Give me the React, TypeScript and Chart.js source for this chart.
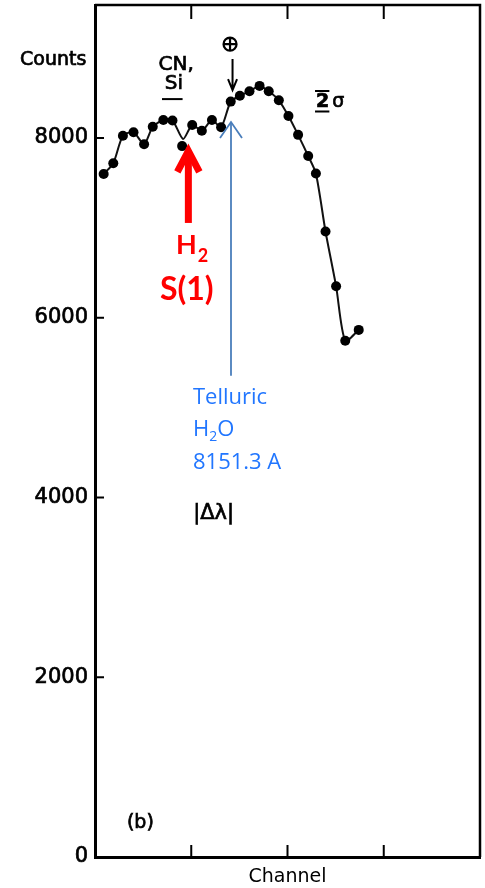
import React, { useEffect, useRef } from "react";
import { Chart, registerables } from "chart.js";

Chart.register(...registerables);

// Measured spectrum points (channel, counts)
const channels = [0.9, 1.9, 2.9, 4.0, 5.1, 6.0, 7.1, 8.05, 9.05, 10.1, 11.1, 12.15, 13.1, 14.1, 15.05, 16.05, 17.1, 18.05, 19.1, 20.1, 21.1, 22.15, 22.95, 23.95, 25.05, 26.0, 27.4];
const counts = [7600, 7720, 8025, 8065, 7930, 8125, 8200, 8195, 7910, 8145, 8080, 8200, 8120, 8405, 8470, 8520, 8580, 8520, 8420, 8245, 8035, 7800, 7605, 6960, 6350, 5745, 5865];

// Hand-drawn fit curve through the points (dips above the H2 point)
const fitChannels = [0.9, 1.9, 2.9, 4.0, 5.1, 6.0, 7.1, 8.05, 9.15, 10.1, 11.1, 12.15, 13.1, 14.1, 15.05, 16.05, 17.1, 18.05, 19.1, 20.1, 21.1, 22.15, 22.95, 23.95, 25.05, 26.0, 27.4];
const fitCounts = [7600, 7720, 8025, 8065, 7930, 8125, 8200, 8195, 7990, 8145, 8080, 8200, 8120, 8405, 8470, 8520, 8580, 8520, 8420, 8245, 8035, 7800, 7605, 6960, 6350, 5745, 5865];

const yTickValues = [0, 2000, 4000, 6000, 8000];
const xTickValues = [10, 20, 30];
const X_MIN = 0;
const X_MAX = 40;
const Y_MIN = 0;
const Y_MAX = 9480;

const SCAN_FONT = "'DejaVu Sans', sans-serif";

function scanText(ctx: CanvasRenderingContext2D, text: string, x: number, y: number) {
  ctx.fillText(text, x, y);
  ctx.strokeText(text, x, y);
}

const framePlugin = {
  id: "frameAndNotes",
  afterDatasetsDraw(chart: any) {
    const ctx = chart.ctx as CanvasRenderingContext2D;
    const xs = chart.scales.x;
    const ys = chart.scales.y;
    const { left, right, top, bottom } = chart.chartArea;
    const X = (v: number) => xs.getPixelForValue(v);
    const Y = (v: number) => ys.getPixelForValue(v);
    ctx.save();
    ctx.strokeStyle = "#000";
    ctx.lineCap = "butt";
    // top & right frame
    ctx.lineWidth = 2.5;
    ctx.beginPath();
    ctx.moveTo(left, top);
    ctx.lineTo(right, top);
    ctx.lineTo(right, bottom);
    ctx.stroke();
    // inward ticks
    ctx.lineWidth = 2;
    xTickValues.forEach((v) => {
      const px = X(v);
      ctx.beginPath();
      ctx.moveTo(px, bottom);
      ctx.lineTo(px, bottom - 12);
      ctx.moveTo(px, top);
      ctx.lineTo(px, top + 14);
      ctx.stroke();
    });
    yTickValues.forEach((v) => {
      if (v === 0) return;
      const py = Y(v);
      ctx.beginPath();
      ctx.moveTo(left, py);
      ctx.lineTo(left + 9, py);
      ctx.stroke();
    });

    ctx.fillStyle = "#000";
    ctx.textBaseline = "alphabetic";
    ctx.textAlign = "left";
    ctx.lineWidth = 0.7;

    // Counts label
    ctx.font = `19px ${SCAN_FONT}`;
    scanText(ctx, "Counts", 20, 65);

    // (b)
    scanText(ctx, "(b)", X(3.32), Y(322));

    // CN, Si
    ctx.font = `20px ${SCAN_FONT}`;
    scanText(ctx, "CN,", X(6.6), Y(8756));
    scanText(ctx, "Si", X(7.25), Y(8544));
    ctx.lineWidth = 2;
    ctx.beginPath();
    ctx.moveTo(X(6.96), Y(8433));
    ctx.lineTo(X(9.1), Y(8433));
    ctx.stroke();

    // circled plus and black arrow
    const cx = X(14.03);
    const cy = Y(9044);
    ctx.lineWidth = 2.2;
    ctx.beginPath();
    ctx.arc(cx, cy, 6.5, 0, Math.PI * 2);
    ctx.moveTo(cx - 6.5, cy);
    ctx.lineTo(cx + 6.5, cy);
    ctx.moveTo(cx, cy - 6.5);
    ctx.lineTo(cx, cy + 6.5);
    ctx.stroke();
    const ax = X(14.29);
    const aTop = Y(8878);
    const aTip = Y(8533);
    ctx.lineWidth = 2;
    ctx.beginPath();
    ctx.moveTo(ax, aTop);
    ctx.lineTo(ax, aTip);
    ctx.moveTo(ax - 4.5, aTip - 11);
    ctx.lineTo(ax, aTip);
    ctx.lineTo(ax + 4.5, aTip - 11);
    ctx.stroke();

    // 2 sigma bar
    const sx = X(22.86);
    ctx.lineWidth = 0.7;
    ctx.font = `bold 19px ${SCAN_FONT}`;
    scanText(ctx, "2", sx + 1, Y(8345));
    ctx.font = `19px ${SCAN_FONT}`;
    scanText(ctx, "σ", X(24.65), Y(8345));
    ctx.lineWidth = 2;
    ctx.beginPath();
    ctx.moveTo(sx, Y(8524));
    ctx.lineTo(X(24.35), Y(8524));
    ctx.moveTo(sx, Y(8296));
    ctx.lineTo(X(24.35), Y(8296));
    ctx.stroke();

    // |Δλ|
    ctx.lineWidth = 0.7;
    ctx.font = `21px ${SCAN_FONT}`;
    scanText(ctx, "|Δλ|", X(10.2), Y(3756));

    // Red H2 S(1) arrow
    const rx = X(9.7);
    const rTip = Y(7889) + 3;
    ctx.strokeStyle = "#ff0000";
    ctx.fillStyle = "#ff0000";
    ctx.lineWidth = 7;
    ctx.lineJoin = "miter";
    ctx.beginPath();
    ctx.moveTo(rx, Y(7055));
    ctx.lineTo(rx, rTip + 2);
    ctx.stroke();
    ctx.beginPath();
    ctx.moveTo(rx - 11, rTip + 21);
    ctx.lineTo(rx, rTip);
    ctx.lineTo(rx + 11, rTip + 21);
    ctx.stroke();
    ctx.font = "bold 27px Lato, 'Open Sans', sans-serif";
    ctx.fillText("H", X(8.42), Y(6711));
    const hW = ctx.measureText("H").width;
    ctx.font = "bold 18px Lato, 'Open Sans', sans-serif";
    ctx.fillText("2", X(8.42) + hW + 1, Y(6711) + 8);
    ctx.font = "bold 32px Lato, 'Open Sans', sans-serif";
    ctx.fillText("S(1)", X(6.75), Y(6200));

    // Blue telluric arrow
    const bx = X(14.13);
    const bTip = Y(8178);
    ctx.strokeStyle = "#4a7ebb";
    ctx.lineWidth = 1.8;
    ctx.lineJoin = "miter";
    ctx.beginPath();
    ctx.moveTo(bx, Y(5356));
    ctx.lineTo(bx, bTip);
    ctx.stroke();
    ctx.beginPath();
    ctx.moveTo(bx - 11, bTip + 16);
    ctx.lineTo(bx, bTip);
    ctx.lineTo(bx + 11, bTip + 16);
    ctx.stroke();

    ctx.fillStyle = "#2176ff";
    const tx = X(10.18);
    ctx.font = "22px 'Open Sans', sans-serif";
    ctx.fillText("Telluric", tx, Y(5044));
    ctx.fillText("H", tx, Y(4689));
    const hw2 = ctx.measureText("H").width;
    ctx.font = "14px 'Open Sans', sans-serif";
    ctx.fillText("2", tx + hw2, Y(4689) + 5);
    const w2 = ctx.measureText("2").width;
    ctx.font = "22px 'Open Sans', sans-serif";
    ctx.fillText("O", tx + hw2 + w2, Y(4689));
    ctx.fillText("8151.3 A", tx, Y(4322));

    ctx.restore();
  },
};

export default function App() {
  const ref = useRef<HTMLCanvasElement | null>(null);

  useEffect(() => {
    if (!ref.current) return;
    const chart = new Chart(ref.current, {
      type: "scatter",
      data: {
        datasets: [
          {
            label: "points",
            data: channels.map((c, i) => ({ x: c, y: counts[i] })),
            showLine: false,
            pointRadius: 5,
            pointBackgroundColor: "#000",
            pointBorderWidth: 0,
            order: 1,
          },
          {
            label: "fit",
            type: "line",
            data: fitChannels.map((c, i) => ({ x: c, y: fitCounts[i] })),
            showLine: true,
            pointRadius: 0,
            borderColor: "#111",
            borderWidth: 2,
            tension: 0.25,
            fill: false,
            order: 2,
          } as any,
        ],
      },
      options: {
        animation: false,
        responsive: false,
        maintainAspectRatio: false,
        layout: { padding: { top: 4, right: 4, left: 0, bottom: 0 } },
        plugins: { legend: { display: false }, tooltip: { enabled: false } },
        scales: {
          x: {
            type: "linear",
            min: X_MIN,
            max: X_MAX,
            grid: { display: false, drawTicks: false },
            border: { display: true, color: "#000", width: 3 },
            ticks: { display: false },
            title: {
              display: true,
              text: "Channel",
              color: "#000",
              font: { family: SCAN_FONT, size: 19 },
              padding: { top: 0, bottom: 0 },
            },
            afterFit: (scale: any) => {
              scale.height = 31;
              scale.paddingLeft = 0;
              scale.paddingRight = 0;
            },
          },
          y: {
            type: "linear",
            min: Y_MIN,
            max: Y_MAX,
            grid: { display: false, drawTicks: false },
            border: { display: true, color: "#000", width: 3 },
            afterBuildTicks: (scale: any) => {
              scale.ticks = yTickValues.map((v) => ({ value: v }));
            },
            ticks: {
              color: "#000",
              padding: 7,
              font: { family: SCAN_FONT, size: 21 },
              textStrokeColor: "#000",
              textStrokeWidth: 0.7,
              callback: (v: any) => String(v),
            },
            afterFit: (scale: any) => {
              scale.width = 95;
              scale.paddingTop = 0;
              scale.paddingBottom = 0;
            },
          },
        },
      },
      plugins: [framePlugin],
    });
    return () => chart.destroy();
  }, []);

  return (
    <div style={{ position: "fixed", left: 0, top: 0, width: 485, height: 888, background: "#fff" }}>
      <canvas ref={ref} width={485} height={888} style={{ width: 485, height: 888 }} />
    </div>
  );
}
